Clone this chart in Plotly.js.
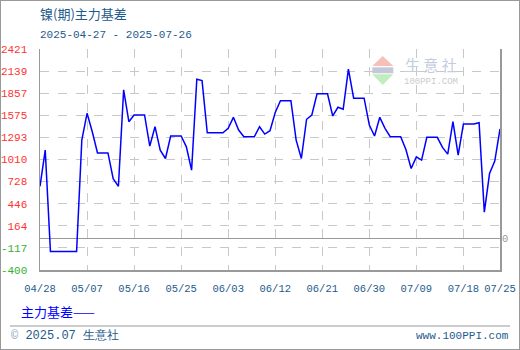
<!DOCTYPE html>
<html><head><meta charset="utf-8">
<script src="https://cdn.plot.ly/plotly-3.0.1.min.js"></script>
<style>
html,body{margin:0;padding:0;background:#fff;}
#wrap{position:relative;width:520px;height:350px;}
#chart{width:520px;height:350px;}
#frame{position:absolute;left:0;top:0;width:520px;height:350px;box-sizing:border-box;border:1px solid #999;pointer-events:none;}
</style></head>
<body>
<div id="wrap"><div id="chart"></div><div id="frame"></div></div>
<script>
const dates = [
'2025-04-28','2025-04-29','2025-04-30','2025-05-01','2025-05-02','2025-05-03','2025-05-04','2025-05-05','2025-05-06','2025-05-07',
'2025-05-08','2025-05-09','2025-05-10','2025-05-11','2025-05-12','2025-05-13','2025-05-14','2025-05-15','2025-05-16','2025-05-17',
'2025-05-18','2025-05-19','2025-05-20','2025-05-21','2025-05-22','2025-05-23','2025-05-24','2025-05-25','2025-05-26','2025-05-27',
'2025-05-28','2025-05-29','2025-05-30','2025-05-31','2025-06-01','2025-06-02','2025-06-03','2025-06-04','2025-06-05','2025-06-06',
'2025-06-07','2025-06-08','2025-06-09','2025-06-10','2025-06-11','2025-06-12','2025-06-13','2025-06-14','2025-06-15','2025-06-16',
'2025-06-17','2025-06-18','2025-06-19','2025-06-20','2025-06-21','2025-06-22','2025-06-23','2025-06-24','2025-06-25','2025-06-26',
'2025-06-27','2025-06-28','2025-06-29','2025-06-30','2025-07-01','2025-07-02','2025-07-03','2025-07-04','2025-07-05','2025-07-06',
'2025-07-07','2025-07-08','2025-07-09','2025-07-10','2025-07-11','2025-07-12','2025-07-13','2025-07-14','2025-07-15','2025-07-16',
'2025-07-17','2025-07-18','2025-07-19','2025-07-20','2025-07-21','2025-07-22','2025-07-23','2025-07-24','2025-07-25'];

const basis = [
668,1130,-165,-165,-165,-165,-165,-165,1258,1600,
1365,1095,1095,1095,767,668,1899,1493,1579,1579,
1579,1181,1429,1130,1023,1310,1310,1310,1172,874,
2036,2018,1352,1352,1352,1352,1408,1549,1386,1301,
1301,1301,1429,1335,1378,1610,1762,1762,1762,1258,
1023,1524,1579,1850,1850,1850,1566,1677,1652,2165,
1793,1793,1793,1451,1310,1549,1408,1301,1301,1301,
1139,895,1044,1002,1293,1293,1293,1165,1079,1493,
1066,1465,1465,1465,1480,339,831,990,1400];

const xTickVals = ['2025-04-28','2025-05-07','2025-05-16','2025-05-25','2025-06-03','2025-06-12','2025-06-21','2025-06-30','2025-07-09','2025-07-18','2025-07-25'];
const xTickText = ['04/28','05/07','05/16','05/25','06/03','06/12','06/21','06/30','07/09','07/18','07/25'];
const yTickVals = [2421,2139,1857,1575,1293,1010,728,446,164,-117,-400];
const yTickText = ['2421','2139','1857','1575','1293','1010','728','446','164','-117','-400'];

const titleText = '镍(期)主力基差';
const subtitleText = '2025-04-27 - 2025-07-26';
const seriesName = '主力基差';

const W = 520, H = 350, ML = 40, MR = 20, MT = 49, MB = 80;
const PW = W - ML - MR, PH = H - MT - MB;
const px = x => (x - ML) / PW;
const py = y => (H - MB - y) / PH;

const mono = 'Liberation Mono, DejaVu Sans Mono, monospace';
const cjk = 'Noto Sans CJK SC, sans-serif';
const navy = '#1e5b8c';

const yLabels = yTickVals.map((v, i) =>
  '<span style="color:' + (v < 0 ? '#33b033' : '#ff3333') + '">' + yTickText[i] + '</span>');

const trace = {
  x: dates, y: basis, type: 'scatter', mode: 'lines', name: seriesName,
  line: {color: '#0000ff', width: 1.5}, hoverinfo: 'skip'
};

const layout = {
  width: W, height: H,
  margin: {l: ML, r: MR, t: MT, b: MB, pad: 0},
  paper_bgcolor: '#fff', plot_bgcolor: '#fff',
  showlegend: false,
  xaxis: {
    type: 'date', range: ['2025-04-28', '2025-07-25'],
    tickvals: xTickVals, ticktext: xTickText, ticks: '',
    showgrid: true, gridcolor: '#c8c8c8', griddash: 'dash', gridwidth: 1,
    showline: true, linecolor: '#999', linewidth: 1.5,
    zeroline: false, ticklabelstandoff: 8,
    tickfont: {family: mono, size: 10.5, color: navy}, tickangle: 0
  },
  yaxis: {
    range: [-400, 2421], tickvals: yTickVals, ticktext: yLabels, ticks: '',
    showgrid: true, gridcolor: '#c8c8c8', griddash: 'dash', gridwidth: 1,
    showline: true, linecolor: '#999', linewidth: 1.5, mirror: true,
    zeroline: true, zerolinecolor: '#999', zerolinewidth: 1.5,
    ticklabelstandoff: 9,
    tickfont: {family: mono, size: 11}
  },
  shapes: [
    {type: 'line', xref: 'paper', yref: 'paper', x0: px(10), x1: px(510), y0: py(326), y1: py(326), line: {color: '#999', width: 1}},
    {type: 'path', xref: 'paper', yref: 'paper', layer: 'below',
     path: 'M' + px(372.3) + ',' + py(66) + ' L' + px(382.7) + ',' + py(56) + ' L' + px(393.3) + ',' + py(66) + ' Z',
     fillcolor: '#f4c0b8', line: {width: 0}},
    {type: 'rect', xref: 'paper', yref: 'paper', layer: 'below',
     x0: px(372.3), x1: px(393.3), y0: py(73.3), y1: py(67.3), fillcolor: '#c4c8d8', line: {width: 0}},
    {type: 'path', xref: 'paper', yref: 'paper', layer: 'below',
     path: 'M' + px(372.3) + ',' + py(74.3) + ' L' + px(393.3) + ',' + py(74.3) + ' L' + px(382.7) + ',' + py(85) + ' Z',
     fillcolor: '#c0ecc0', line: {width: 0}}
  ],
  annotations: [
    {xref: 'paper', yref: 'paper', x: px(38), y: py(14), xanchor: 'left', yanchor: 'middle', showarrow: false,
     text: titleText, font: {family: cjk, size: 13, color: navy}},
    {xref: 'paper', yref: 'paper', x: px(38), y: py(35), xanchor: 'left', yanchor: 'middle', showarrow: false,
     text: subtitleText, font: {family: mono, size: 11, color: navy}},
    {xref: 'paper', yref: 'y', x: px(505), y: 0, xanchor: 'center', yanchor: 'middle', showarrow: false,
     text: '0', font: {family: mono, size: 10.5, color: '#999'}},
    {xref: 'paper', yref: 'paper', x: px(431), y: py(64), xanchor: 'center', yanchor: 'middle', showarrow: false,
     text: '生 意 社', font: {family: cjk, size: 15, color: '#c4cce0'}},
    {xref: 'paper', yref: 'paper', x: px(431), y: py(81.5), xanchor: 'center', yanchor: 'middle', showarrow: false,
     text: '100PPI.COM', font: {family: mono, size: 9, color: '#cccccc'}},
    {xref: 'paper', yref: 'paper', x: px(19), y: py(311), xanchor: 'left', yanchor: 'middle', showarrow: false,
     text: seriesName + '——', font: {family: cjk, size: 13, color: '#0000ff'}},
    {xref: 'paper', yref: 'paper', x: px(9), y: py(336), xanchor: 'left', yanchor: 'middle', showarrow: false,
     text: '<span style="color:#8aa4bc">©</span> 2025.07 生意社', font: {family: mono, size: 12, color: navy}},
    {xref: 'paper', yref: 'paper', x: px(511), y: py(336), xanchor: 'right', yanchor: 'middle', showarrow: false,
     text: 'www.100PPI.com', font: {family: mono, size: 11, color: navy}}
  ]
};

Plotly.newPlot('chart', [trace], layout, {staticPlot: true, displayModeBar: false});
</script>
</body></html>
